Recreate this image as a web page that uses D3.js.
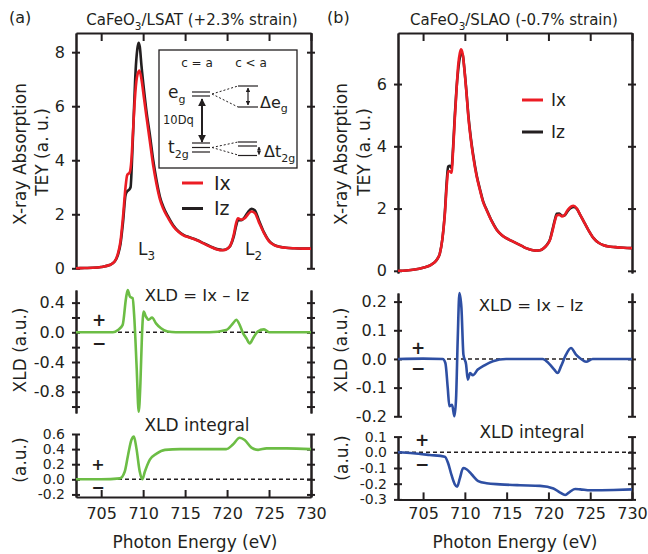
<!DOCTYPE html>
<html><head><meta charset="utf-8">
<script src="https://cdn.jsdelivr.net/npm/d3@7"></script>
<style>body{margin:0;background:#fff} svg{font-family:"DejaVu Sans",sans-serif}</style>
</head><body><svg id="c" width="648" height="554"></svg>
<script>
// ---------------- DATA ----------------
const energyDomain = [702, 730];
const xTickValues = [705, 710, 715, 720, 725, 730];

// Panel (a) CaFeO3/LSAT absorption  [eV, TEY]
const absA_Ix = [[702,0],[703,0.01],[704,0.02],[705,0.05],[706,0.12],[706.6,0.25],[707,0.55],[707.3,1.0],[707.6,1.9],[707.9,3.0],[708.1,3.45],[708.4,3.55],[708.6,4.0],[708.8,5.1],[709.0,6.2],[709.25,7.05],[709.55,7.32],[709.8,7.0],[710.1,6.3],[710.4,5.6],[710.8,4.7],[711.2,3.8],[711.6,3.1],[712.0,2.55],[712.4,2.2],[713.0,1.85],[713.6,1.55],[714.2,1.35],[714.8,1.22],[715.6,1.13],[716.4,1.04],[717.2,0.92],[718.0,0.8],[718.8,0.7],[719.5,0.67],[720.0,0.72],[720.4,0.85],[720.8,1.25],[721.1,1.7],[721.3,1.85],[721.7,1.8],[722.1,1.85],[722.5,2.0],[722.9,2.1],[723.3,2.05],[723.8,1.7],[724.4,1.3],[725.0,1.0],[725.6,0.86],[726.3,0.79],[727.0,0.76],[728,0.74],[729,0.73],[730,0.73]];
const absA_Iz = [[702,0],[703,0.01],[704,0.02],[705,0.05],[706,0.12],[706.6,0.25],[707,0.5],[707.3,0.9],[707.6,1.7],[707.9,2.7],[708.1,2.85],[708.3,2.9],[708.5,3.0],[708.7,4.2],[708.9,5.8],[709.1,7.3],[709.3,8.1],[709.45,8.35],[709.6,8.2],[709.8,7.5],[710.1,6.6],[710.4,5.8],[710.8,4.95],[711.2,4.0],[711.6,3.25],[712.0,2.65],[712.4,2.28],[713.0,1.9],[713.6,1.58],[714.2,1.37],[714.8,1.24],[715.6,1.14],[716.4,1.05],[717.2,0.93],[718.0,0.81],[718.8,0.71],[719.5,0.68],[720.0,0.72],[720.4,0.84],[720.8,1.18],[721.1,1.6],[721.3,1.78],[721.7,1.78],[722.1,1.9],[722.5,2.08],[722.9,2.2],[723.3,2.15],[723.8,1.77],[724.4,1.33],[725.0,1.02],[725.6,0.87],[726.3,0.8],[727.0,0.76],[728,0.74],[729,0.73],[730,0.73]];

// Panel (b) CaFeO3/SLAO absorption
const absB_Ix = [[702,0],[703,0.01],[704,0.04],[705,0.1],[706,0.2],[706.6,0.34],[707,0.55],[707.3,1.0],[707.6,1.8],[707.85,2.8],[708.0,3.2],[708.2,3.2],[708.4,3.15],[708.6,3.9],[708.8,4.9],[709.0,5.8],[709.2,6.6],[709.4,7.0],[709.55,7.12],[709.75,6.95],[709.95,6.45],[710.2,5.7],[710.4,5.0],[710.7,4.25],[711.0,3.67],[711.4,3.05],[711.8,2.6],[712.2,2.2],[712.6,1.95],[713.2,1.6],[713.8,1.32],[714.4,1.15],[715.0,1.04],[715.6,0.96],[716.2,0.88],[716.8,0.8],[717.4,0.72],[718.0,0.67],[718.6,0.65],[719.0,0.66],[719.4,0.72],[719.8,0.82],[720.2,1.0],[720.5,1.3],[720.8,1.63],[721.0,1.78],[721.3,1.8],[721.6,1.75],[721.9,1.78],[722.3,1.95],[722.7,2.06],[723.0,2.09],[723.4,2.0],[723.8,1.8],[724.2,1.6],[724.8,1.3],[725.4,1.05],[726.0,0.9],[726.6,0.82],[727.2,0.78],[728,0.76],[729,0.74],[730,0.73]];
const absB_Iz = [[702,0],[703,0.01],[704,0.04],[705,0.1],[706,0.2],[706.6,0.34],[707,0.55],[707.3,1.0],[707.6,1.85],[707.85,2.95],[708.0,3.35],[708.2,3.37],[708.4,3.3],[708.6,4.0],[708.8,5.0],[709.0,5.85],[709.2,6.45],[709.4,6.85],[709.55,7.0],[709.75,6.93],[709.95,6.47],[710.2,5.72],[710.4,5.05],[710.7,4.3],[711.0,3.72],[711.4,3.09],[711.8,2.63],[712.2,2.22],[712.6,1.97],[713.2,1.61],[713.8,1.33],[714.4,1.15],[715.0,1.04],[715.6,0.96],[716.2,0.88],[716.8,0.8],[717.4,0.72],[718.0,0.67],[718.6,0.65],[719.0,0.66],[719.4,0.72],[719.8,0.83],[720.2,1.02],[720.5,1.34],[720.8,1.67],[721.0,1.83],[721.3,1.84],[721.6,1.77],[721.9,1.77],[722.3,1.92],[722.7,2.02],[723.0,2.05],[723.4,1.99],[723.8,1.8],[724.2,1.6],[724.8,1.3],[725.4,1.05],[726.0,0.9],[726.6,0.82],[727.2,0.78],[728,0.76],[729,0.74],[730,0.73]];

// XLD = Ix - Iz
const xldA = [[702,0],[704,0],[706.4,0],[707.0,0.03],[707.56,0.1],[707.96,0.46],[708.16,0.57],[708.43,0.48],[708.75,0.46],[708.95,0.19],[709.23,-0.48],[709.47,-1.07],[709.67,-0.7],[709.86,-0.04],[710.06,0.28],[710.34,0.21],[710.66,0.17],[711.06,0.2],[711.53,0.12],[712.13,0.054],[712.92,0.01],[713.9,0],[717.9,0],[719.9,0.03],[720.7,0.12],[721.1,0.17],[721.5,0.1],[721.9,-0.01],[722.3,-0.08],[722.7,-0.15],[723.1,-0.08],[723.65,0.01],[724.4,0.04],[725.0,0],[730,0]];
const xldB = [[702,0],[705,0.001],[707.35,0],[707.67,-0.014],[707.95,-0.1],[708.15,-0.165],[708.47,-0.16],[708.75,-0.2],[708.95,-0.136],[709.15,0.073],[709.35,0.23],[709.59,0.178],[709.83,0.015],[710.15,-0.02],[710.35,-0.072],[710.63,-0.049],[710.95,-0.057],[711.55,-0.037],[712.35,-0.022],[713.35,-0.008],[714.94,0],[719.3,0],[720.1,-0.017],[720.7,-0.037],[721.1,-0.049],[721.5,-0.026],[722.1,0.015],[722.7,0.038],[723.3,0.015],[723.9,0],[724.5,-0.01],[725.3,0],[730,0]];

// XLD integral
const intA = [[702,0],[705,0],[707.24,0.013],[707.8,0.1],[708.2,0.32],[708.6,0.52],[708.9,0.565],[709.2,0.41],[709.6,0.1],[709.9,0.0],[710.2,0.1],[710.8,0.26],[711.6,0.34],[712.6,0.39],[714.4,0.40],[716.8,0.40],[719.9,0.40],[720.7,0.46],[721.5,0.55],[722.1,0.52],[722.9,0.42],[723.7,0.39],[724.7,0.41],[727.1,0.41],[730,0.40]];
const intB = [[702,0],[703.8,-0.006],[705.8,-0.017],[707.6,-0.028],[708.0,-0.07],[708.4,-0.144],[708.8,-0.204],[709.07,-0.219],[709.4,-0.166],[709.8,-0.1],[710.2,-0.108],[710.8,-0.14],[711.6,-0.183],[712.6,-0.197],[714.2,-0.204],[716.6,-0.21],[719.0,-0.214],[720.6,-0.23],[721.4,-0.257],[722.0,-0.272],[722.6,-0.25],[723.2,-0.234],[723.8,-0.236],[725.0,-0.242],[727.8,-0.24],[730,-0.236]];

const ticksTopA = [0,2,4,6,8];
const ticksTopB = [0,2,4,6];
const ticksXldA = [0.4,0.2,0,-0.2,-0.4,-0.6,-0.8,-1.0];
const labelsXldA = [0.4,0,-0.4,-0.8];
const ticksXldB = [0.2,0.1,0,-0.1,-0.2];
const ticksIntA = [0.6,0.4,0.2,0,-0.2];
const ticksIntB = [0.1,0,-0.1,-0.2,-0.3];

// --------------- DRAW -----------------
const svg = d3.select("#c");
const INK = "#231f20", RED = "#ec1c24", GREEN = "#6cbd45", BLUE = "#2e4fa3";

function yAxes(x0, x1, y, ticks, labels, fmt, fs){
  const l = svg.append("g").attr("transform",`translate(${x0},0)`);
  l.call(d3.axisLeft(y).tickValues(ticks).tickSize(4).tickSizeOuter(0).tickPadding(7)
     .tickFormat(d => labels.some(v=>Math.abs(v-d)<1e-9) ? fmt(d) : ""));
  l.selectAll(".tick text").attr("font-size",fs).attr("fill",INK).attr("font-family","DejaVu Sans");
  l.append("g").call(d3.axisRight(y).tickValues(ticks).tickSize(4).tickSizeOuter(0).tickFormat(""));
  const r = svg.append("g").attr("transform",`translate(${x1},0)`);
  r.call(d3.axisRight(y).tickValues(ticks).tickSize(4).tickSizeOuter(0).tickFormat(""));
  r.append("g").call(d3.axisLeft(y).tickValues(ticks).tickSize(4).tickSizeOuter(0).tickFormat(""));
}
function styleAll(){
  svg.selectAll(".domain").attr("stroke",INK).attr("stroke-width",2);
  svg.selectAll(".tick line").attr("stroke",INK).attr("stroke-width",2);
}
function curve(x, y, data, color, w){
  svg.append("path").datum(data)
    .attr("d", d3.line().x(d=>x(d[0])).y(d=>y(d[1])).curve(d3.curveMonotoneX))
    .attr("fill","none").attr("stroke",color).attr("stroke-width",w||2.6)
    .attr("stroke-linejoin","round");
}
function zeroLine(x, y){
  svg.append("line").attr("x1",x.range()[0]).attr("x2",x.range()[1])
    .attr("y1",y(0)).attr("y2",y(0)).attr("stroke",INK).attr("stroke-width",1.5)
    .attr("stroke-dasharray","4,3");
}
function vText(x, yc, str, size){
  svg.append("text").attr("transform",`translate(${x},${yc}) rotate(-90)`)
    .attr("text-anchor","middle").attr("font-size",size||17).attr("fill",INK).text(str);
}
function txt(x, y, str, size, anchor){
  return svg.append("text").attr("x",x).attr("y",y).attr("font-size",size)
    .attr("text-anchor",anchor||"start").attr("fill",INK).text(str);
}
function subText(x, y, parts, size, anchor){
  const t = svg.append("text").attr("x",x).attr("y",y).attr("font-size",size)
     .attr("text-anchor",anchor||"start").attr("fill",INK);
  parts.forEach(p=>{
    const s = t.append("tspan").text(p[0]);
    if(p[1]) s.attr("font-size",size*0.7).attr("dy",size*0.3);
    else if(p[2]) s.attr("dy",-size*0.3);
  });
  return t;
}
const f1 = d => d.toFixed(1);
const f0 = d => d.toFixed(0);

const cols = [
  {x0:76, x1:311, top:{yt:33, yb:268.3, dom:[0,8.71], ticks:ticksTopA, Ix:absA_Ix, Iz:absA_Iz},
   mid:{yt:290, yb:413, dom:[-1.087,0.57], ticks:ticksXldA, labels:labelsXldA, data:xldA, color:GREEN},
   bot:{yt:434, yb:497, dom:[-0.234,0.6], ticks:ticksIntA, data:intA, color:GREEN}},
  {x0:398, x1:632, top:{yt:33, yb:273, dom:[-0.07,7.64], ticks:ticksTopB, Ix:absB_Ix, Iz:absB_Iz},
   mid:{yt:293, yb:416.3, dom:[-0.2,0.23], ticks:ticksXldB, labels:ticksXldB, data:xldB, color:BLUE},
   bot:{yt:436.6, yb:499.4, dom:[-0.3,0.1], ticks:ticksIntB, data:intB, color:BLUE}}
];

const scales = cols.map(c=>{
  const x = d3.scaleLinear().domain(energyDomain).range([c.x0,c.x1]);
  const yT = d3.scaleLinear().domain(c.top.dom).range([c.top.yb,c.top.yt]);
  const yM = d3.scaleLinear().domain(c.mid.dom).range([c.mid.yb,c.mid.yt]);
  const yB = d3.scaleLinear().domain(c.bot.dom).range([c.bot.yb,c.bot.yt]);
  // top panel
  yAxes(c.x0,c.x1,yT,c.top.ticks,c.top.ticks,f0,16);
  svg.append("g").attr("transform",`translate(0,${c.top.yt})`)
    .call(d3.axisBottom(x).tickValues(xTickValues).tickSize(8).tickSizeOuter(0).tickFormat(""));
  // middle
  yAxes(c.x0,c.x1,yM,c.mid.ticks,c.mid.labels,f1,16);
  // bottom
  yAxes(c.x0,c.x1,yB,c.bot.ticks,c.bot.ticks,f1,14);
  svg.append("g").attr("transform",`translate(0,${c.bot.yb})`)
    .call(d3.axisTop(x).tickValues(xTickValues).tickSize(7).tickSizeOuter(0).tickFormat(""));
  const lab = svg.append("g").attr("transform",`translate(0,${c.bot.yb})`)
    .call(d3.axisBottom(x).tickValues(xTickValues).tickSize(0).tickPadding(520-c.bot.yb-12).tickFormat(f0));
  lab.select(".domain").remove();
  lab.selectAll(".tick text").attr("font-size",16).attr("fill",INK).attr("font-family","DejaVu Sans");
  return {x,yT,yM,yB,c};
});
styleAll();

scales.forEach(s=>{
  const c = s.c;
  zeroLine(s.x, s.yM);
  zeroLine(s.x, s.yB);
  curve(s.x, s.yT, c.top.Iz, INK);
  curve(s.x, s.yT, c.top.Ix, RED);
  curve(s.x, s.yM, c.mid.data, c.mid.color);
  curve(s.x, s.yB, c.bot.data, c.bot.color);
});

// ---------- Texts ----------
txt(9, 23, "(a)", 16);
txt(327, 23, "(b)", 16);
subText(192, 25, [["CaFeO"],["3",true],["/LSAT (+2.3% strain)",false,true]], 15, "middle");
subText(514, 25, [["CaFeO"],["3",true],["/SLAO (-0.7% strain)",false,true]], 15, "middle");

vText(26, 154, "X-ray Absorption");
vText(48, 152, "TEY (a. u.)");
vText(347, 154, "X-ray Absorption");
vText(370, 152, "TEY (a. u.)");
vText(26, 350, "XLD (a.u.)");
vText(347, 350, "XLD (a.u.)");
vText(26, 460, "(a.u.)");
vText(348, 458, "(a.u.)");

txt(195, 548, "Photon Energy (eV)", 17, "middle");
txt(515, 548, "Photon Energy (eV)", 17, "middle");

txt(197, 301, "XLD = Ix – Iz", 16.5, "middle");
txt(531, 311, "XLD = Ix – Iz", 16.5, "middle");
txt(197, 431, "XLD integral", 17, "middle");
txt(532, 438, "XLD integral", 17, "middle");

// +/- signs
[[99,326,17,"+"],[99,349,17,"−"],[418,354,17,"+"],[418,374,17,"−"],[98,470,16,"+"],[98,493,16,"−"],[422,446,17,"+"],[422,470,17,"−"]]
 .forEach(p=>txt(p[0],p[1],p[3],p[2],"middle").attr("font-weight","bold"));

// L3 / L2
subText(138, 255, [["L"],["3",true]], 17);
subText(245, 255, [["L"],["2",true]], 17);

// legends
function legend(x1,x2,y,color,tx,label,size){
  svg.append("line").attr("x1",x1).attr("x2",x2).attr("y1",y).attr("y2",y)
    .attr("stroke",color).attr("stroke-width",3);
  txt(tx, y+size*0.36, label, size);
}
legend(182,203,183,RED,214,"Ix",19);
legend(182,203,208.5,INK,214,"Iz",19);
legend(522,543,100,RED,551,"Ix",17);
legend(522,543,132,INK,551,"Iz",17);

// ---------- Inset (crystal-field diagram) ----------
const ins = svg.append("g");
ins.append("rect").attr("x",159).attr("y",50).attr("width",138).attr("height",118)
  .attr("fill","#fff").attr("stroke",INK).attr("stroke-width",1.3);
const tI = (x,y,s,sz,a)=>ins.append("text").attr("x",x).attr("y",y).attr("font-size",sz)
   .attr("text-anchor",a||"start").attr("fill",INK).text(s);
tI(197,67,"c = a",12,"middle");
tI(251,67,"c < a",12,"middle");
const L = (x1,y1,x2,y2,w,dash)=>ins.append("line").attr("x1",x1).attr("y1",y1).attr("x2",x2).attr("y2",y2)
   .attr("stroke",INK).attr("stroke-width",w||1.2).attr("stroke-dasharray",dash||null);
// e_g levels
L(192,92,210,92); L(192,96,210,96);
L(212,94,238,86,1,"2,2"); L(212,94,238,107,1,"2,2");
L(238,86,258,86); L(238,107,258,107);
// t2g levels
L(192,143,210,143); L(192,147.5,210,147.5); L(192,152,210,152);
L(212,147.5,238,142,1,"2,2"); L(212,147.5,238,155,1,"2,2");
L(238,142,257,142); L(238,146,257,146); L(238,155.5,257,155.5);
// arrows
const defs = svg.append("defs");
defs.append("marker").attr("id","ah").attr("viewBox","0 0 10 10").attr("refX",9).attr("refY",5)
  .attr("markerWidth",4).attr("markerHeight",4).attr("orient","auto-start-reverse")
  .append("path").attr("d","M0,0L10,5L0,10z").attr("fill",INK);
L(202,99,202,142,2).attr("marker-start","url(#ah)").attr("marker-end","url(#ah)");
L(248,88,248,105,1.2).attr("marker-start","url(#ah)").attr("marker-end","url(#ah)");
L(259,147,259,154.5,1).attr("marker-start","url(#ah)").attr("marker-end","url(#ah)");
// labels
const eg = ins.append("text").attr("x",168).attr("y",98).attr("font-size",17).attr("fill",INK);
eg.append("tspan").text("e"); eg.append("tspan").text("g").attr("font-size",11).attr("dy",5);
const t2g = ins.append("text").attr("x",168).attr("y",153).attr("font-size",17).attr("fill",INK);
t2g.append("tspan").text("t"); t2g.append("tspan").text("2g").attr("font-size",11).attr("dy",5);
tI(163,124,"10Dq",11.5);
const de = ins.append("text").attr("x",260).attr("y",108).attr("font-size",16).attr("fill",INK);
de.append("tspan").text("Δe"); de.append("tspan").text("g").attr("font-size",11).attr("dy",4);
const dt = ins.append("text").attr("x",264).attr("y",157).attr("font-size",16).attr("fill",INK);
dt.append("tspan").text("Δt"); dt.append("tspan").text("2g").attr("font-size",11).attr("dy",5);
</script></body></html>
